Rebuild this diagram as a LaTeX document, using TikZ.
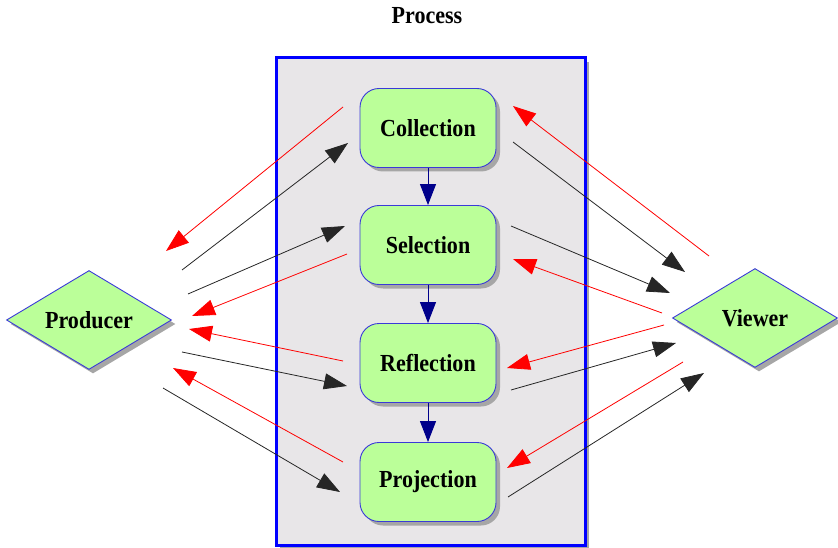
\documentclass[tikz,border=0pt]{standalone}
\usepackage{fontspec}
\setmainfont{Liberation Serif}[FakeStretch=0.9]
\usetikzlibrary{arrows.meta,positioning,shapes.geometric,shadows}
\definecolor{stagegreen}{HTML}{BBFF99}
\definecolor{clustergray}{HTML}{E8E6E8}
\definecolor{edgeblue}{HTML}{3A3AD8}
\definecolor{stepnavy}{HTML}{00008B}
% from node + offset to node + offset
\newcommand{\Flow}[5]{%
  \draw[#1] ([shift={#3}]#2.center) -- ([shift={#5}]#4.center);
}

\begin{document}
\begin{tikzpicture}[x=1pt,y=-1pt,font=\fontsize{24.5}{28}\selectfont\bfseries,
    stage/.style={draw=edgeblue, line width=.9pt, fill=stagegreen, rounded corners=19pt,
      minimum width=136pt, minimum height=79pt, inner sep=0pt,
      drop shadow={shadow xshift=4pt, shadow yshift=-4pt, fill=black!35, opacity=1}},
    party/.style={diamond, draw=edgeblue, line width=.9pt, fill=stagegreen, aspect=1.67,
      minimum width=165pt, minimum height=99pt, inner sep=0pt,
      drop shadow={shadow xshift=4pt, shadow yshift=-4pt, fill=black!35, opacity=1}},
    fwd/.style={-{Triangle[length=23pt,width=16pt]}, black!85, line width=.8pt},
    back/.style={-{Triangle[length=23pt,width=16pt]}, red, line width=.8pt},
    next/.style={-{Triangle[length=21pt,width=16pt]}, stepnavy, line width=1pt}]
    \useasboundingbox (0,0) rectangle (838,548);
    \node[draw=blue, line width=3pt, fill=clustergray, minimum width=309pt, minimum height=487pt,
      drop shadow={shadow xshift=4pt, shadow yshift=-4pt, fill=black!35, opacity=1}]
      (cluster) at (430.5,301.5) {};
    \node (title) at (427,16) {Process};

    \node[stage] (Collection) at (428,128) {Collection};
    \node[stage] (Selection) at (428,245) {Selection};
    \node[stage] (Reflection) at (428,363) {Reflection};
    \node[stage] (Projection) at (428,482) {Projection};
    \node[party] (Producer) at (89,320) {Producer};
    \node[party] (Viewer) at (755,318) {Viewer};

    \draw[next] (Collection) -- (Selection);
    \draw[next] (Selection) -- (Reflection);
    \draw[next] (Reflection) -- (Projection);

    % producer side
    \Flow{back}{Collection}{(-85,-21)}{Producer}{(77,-69)}
    \Flow{fwd}{Producer}{(93,-50)}{Collection}{(-80,15)}
    \Flow{fwd}{Producer}{(99,-26)}{Selection}{(-83,-19)}
    \Flow{back}{Selection}{(-81,9)}{Producer}{(103,-4)}
    \Flow{back}{Reflection}{(-85,-2)}{Producer}{(100,9)}
    \Flow{fwd}{Producer}{(93,32)}{Reflection}{(-81,23)}
    \Flow{back}{Projection}{(-85,-20)}{Producer}{(84,48)}
    \Flow{fwd}{Producer}{(74,68)}{Projection}{(-88,10)}
    % viewer side
    \Flow{back}{Viewer}{(-46,-62)}{Collection}{(85,-22)}
    \Flow{fwd}{Collection}{(85,14)}{Viewer}{(-70,-46)}
    \Flow{fwd}{Selection}{(83,-19)}{Viewer}{(-85,-25)}
    \Flow{back}{Viewer}{(-93,-5)}{Selection}{(85,14)}
    \Flow{back}{Viewer}{(-91,7)}{Reflection}{(79,5)}
    \Flow{fwd}{Reflection}{(83,27)}{Viewer}{(-79,25)}
    \Flow{back}{Viewer}{(-72,44)}{Projection}{(79,-14)}
    \Flow{fwd}{Projection}{(80,15)}{Viewer}{(-51,55)}
\end{tikzpicture}
\end{document}
